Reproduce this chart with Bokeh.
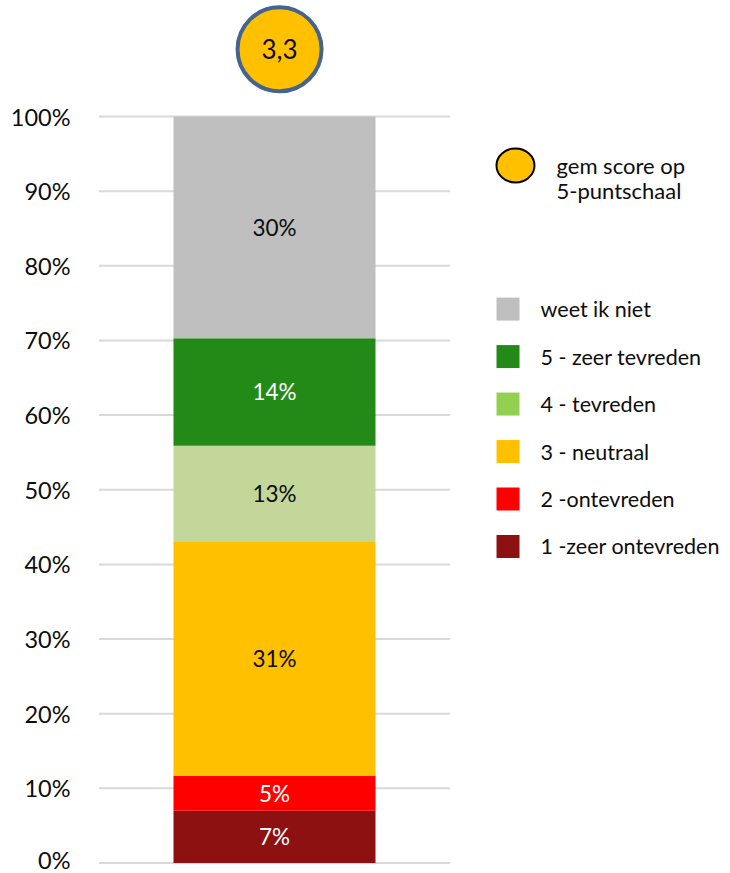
import numpy as np
from bokeh.plotting import figure
from bokeh.models import Range1d, FixedTicker, PrintfTickFormatter, ColumnDataSource
from bokeh.core.properties import value
from bokeh.embed import file_html
from bokeh.resources import INLINE

# ---------------- data ----------------
categories = ["1 -zeer ontevreden", "2 -ontevreden", "3 - neutraal",
              "4 - tevreden", "5 - zeer tevreden", "weet ik niet"]
shares = [7.0, 4.7, 31.3, 12.9, 14.4, 29.7]          # percent, bottom -> top
bar_colors = ["#8E1111", "#FF0000", "#FFC000", "#C4D79B", "#238A17", "#BFBFBF"]
label_colors = ["#FFFFFF", "#FFFFFF", "#0D0D0D", "#0D0D0D", "#FFFFFF", "#0D0D0D"]
legend_colors = ["#8E1111", "#FF0000", "#FFC000", "#92D050", "#238A17", "#BFBFBF"]
mean_score = 3.3
score_legend_lines = ["gem score op", "5-puntschaal"]
y_ticks = [0, 10, 20, 30, 40, 50, 60, 70, 80, 90, 100]

# ---------------- layout constants ----------------
FONT = "Lato"
FIG_W, FIG_H = 730, 873
BAR_X, BAR_W = 0.0, 1.0
GRID_HALF = 0.87
SCORE_X, SCORE_Y = 0.025, 109.0
LEG_SQ_X, LEG_TXT_X = 1.156, 1.317
LEG_TOP, LEG_STEP = 74.2, 6.36
SCORE_LEG_X, SCORE_LEG_Y = 1.193, 93.44
SCORE_TXT_X, SCORE_TXT_Y, SCORE_TXT_STEP = 1.396, 93.4, 3.33

tops = np.cumsum(shares)
bottoms = tops - np.array(shares)
mids = (tops + bottoms) / 2

p = figure(width=FIG_W, height=FIG_H, output_backend="svg", toolbar_location=None,
           x_range=Range1d(-0.8713, 2.2574), y_range=Range1d(-1.407, 115.54),
           x_axis_location=None, min_border_left=98, min_border_right=0,
           min_border_top=0, min_border_bottom=0)
p.outline_line_color = None
p.grid.visible = False
p.background_fill_color = "white"

ax = p.yaxis[0]
ax.ticker = FixedTicker(ticks=y_ticks)
ax.formatter = PrintfTickFormatter(format="%d%%")
ax.axis_line_color = None
ax.major_tick_line_color = None
ax.minor_tick_line_color = None
ax.major_tick_out = 0
ax.major_tick_in = 0
ax.major_label_standoff = 28
ax.major_label_text_font = FONT
ax.major_label_text_font_size = "23.5px"
ax.major_label_text_color = "#0D0D0D"

# gridlines
p.segment(x0=-GRID_HALF, x1=GRID_HALF, y0=y_ticks, y1=y_ticks,
          line_color="#D9D9D9", line_width=2)

# stacked bar
src = ColumnDataSource(dict(cat=categories, bottom=bottoms, top=tops, mid=mids,
                            color=bar_colors, lcolor=label_colors,
                            label=[f"{round(v)}%" for v in shares]))
p.vbar(x=BAR_X, width=BAR_W, bottom="bottom", top="top", fill_color="color",
       line_color=None, source=src)
p.text(x=BAR_X, y="mid", text="label", text_color="lcolor", text_align="center",
       text_baseline="middle", text_font=value(FONT), text_font_size="22.5px", source=src)

# mean score bubble
p.scatter(x=[SCORE_X], y=[SCORE_Y], size=84, fill_color="#FFC000",
          line_color="#44648F", line_width=4)
p.text(x=[SCORE_X], y=[SCORE_Y], text=[f"{mean_score:.1f}".replace(".", ",")],
       text_align="center", text_baseline="middle", text_font=value(FONT),
       text_font_size="26px", text_color="#0D0D0D")

# legend (drawn manually)
leg_names = categories[::-1]
leg_cols = legend_colors[::-1]
leg_y = [LEG_TOP - i * LEG_STEP for i in range(len(leg_names))]
p.rect(x=LEG_SQ_X, y=leg_y, width=23, height=23, width_units="screen",
       height_units="screen", fill_color=leg_cols, line_color=None)
p.text(x=LEG_TXT_X, y=leg_y, text=leg_names, text_baseline="middle",
       text_font=value(FONT), text_font_size="21.5px", text_color="#0D0D0D")

p.ellipse(x=[SCORE_LEG_X], y=[SCORE_LEG_Y], width=38, height=34,
          width_units="screen", height_units="screen",
          fill_color="#FFC000", line_color="#000000", line_width=2)
p.text(x=SCORE_TXT_X,
       y=[SCORE_TXT_Y - i * SCORE_TXT_STEP for i in range(len(score_legend_lines))],
       text=score_legend_lines, text_baseline="middle", text_font=value(FONT),
       text_font_size="22px", text_color="#0D0D0D")

open("out.html", "w").write(file_html(p, INLINE))
